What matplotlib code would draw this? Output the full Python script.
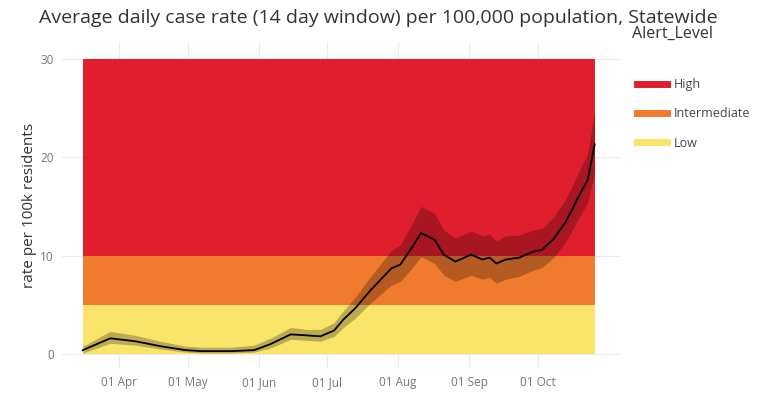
import numpy as np
import pandas as pd
import matplotlib
matplotlib.use("Agg")
import matplotlib.pyplot as plt
import matplotlib.dates as mdates
from matplotlib.lines import Line2D

# case rate per 100k (14 day window)
dates = ["2020-03-16", "2020-03-28", "2020-04-08", "2020-04-19", "2020-04-30",
         "2020-05-07", "2020-05-20", "2020-05-30", "2020-06-06", "2020-06-15",
         "2020-06-22", "2020-06-28", "2020-07-04", "2020-07-08", "2020-07-13",
         "2020-07-20", "2020-07-29", "2020-08-02", "2020-08-07", "2020-08-11",
         "2020-08-17", "2020-08-21", "2020-08-26", "2020-09-02", "2020-09-07",
         "2020-09-10", "2020-09-13", "2020-09-17", "2020-09-23", "2020-09-29",
         "2020-10-03", "2020-10-08", "2020-10-13", "2020-10-16", "2020-10-19",
         "2020-10-22", "2020-10-23", "2020-10-26"]
rate = [0.4, 1.6, 1.3, 0.8, 0.4, 0.3, 0.3, 0.4, 1.0, 2.0,
        1.9, 1.8, 2.4, 3.5, 4.6, 6.5, 8.7, 9.1, 10.8, 12.3,
        11.6, 10.1, 9.4, 10.1, 9.6, 9.8, 9.2, 9.6, 9.8, 10.4,
        10.6, 11.7, 13.3, 14.6, 16.0, 17.3, 17.7, 21.3]
rate_lo = [0.1, 1.1, 0.9, 0.5, 0.2, 0.1, 0.1, 0.2, 0.6, 1.5,
           1.4, 1.3, 1.8, 2.7, 3.6, 5.2, 7.0, 7.4, 8.7, 9.9,
           9.2, 8.0, 7.4, 8.0, 7.6, 7.8, 7.2, 7.6, 7.9, 8.5,
           8.8, 9.8, 11.3, 12.5, 13.8, 15.0, 15.4, 18.5]
rate_hi = [0.8, 2.3, 1.9, 1.3, 0.8, 0.7, 0.7, 0.9, 1.6, 2.7,
           2.5, 2.5, 3.2, 4.4, 5.7, 7.9, 10.5, 11.1, 13.2, 15.0,
           14.3, 12.6, 11.8, 12.5, 12.0, 12.2, 11.5, 12.0, 12.1, 12.6,
           12.8, 13.9, 15.6, 17.0, 18.5, 19.9, 20.4, 24.6]

month_ticks = ["2020-04-01", "2020-05-01", "2020-06-01", "2020-07-01",
               "2020-08-01", "2020-09-01", "2020-10-01"]

levels = ["High", "Intermediate", "Low"]
level_lo = [10, 5, 0]
level_hi = [30, 10, 5]
level_colors = ["#e01e2d", "#f07a2d", "#fbe46a"]

x = pd.to_datetime(dates)

plt.rcParams['font.family'] = ['Open Sans', 'DejaVu Sans']
fig = plt.figure(figsize=(7.68, 3.93), dpi=100)
ax = fig.add_axes([0.081, 0.064, 0.726, 0.829])

for lo, hi, c in zip(level_lo, level_hi, level_colors):
    ax.fill_between(x, lo, hi, color=c, lw=0, zorder=1)

ax.fill_between(x, rate_lo, rate_hi, color="black", alpha=0.25, lw=0, zorder=2)
ax.plot(x, rate, color="black", lw=1.3, zorder=3)

ax.set_xlim(pd.Timestamp("2020-03-07"), pd.Timestamp("2020-11-06"))
ax.set_ylim(-1.4, 31.7)
ax.set_yticks([0, 10, 20, 30])
ax.set_xticks(pd.to_datetime(month_ticks))
ax.xaxis.set_major_formatter(mdates.DateFormatter("%d %b"))
ax.grid(True, color="#ececec", lw=0.8, zorder=0)
ax.set_axisbelow(True)
for s in ax.spines.values():
    s.set_visible(False)
ax.tick_params(length=0, labelsize=8.5, labelcolor="#777777", pad=6)
ax.set_ylabel("rate per 100k residents", fontsize=11, color="#333333", labelpad=2)

fig.text(0.493, 0.955, "Average daily case rate (14 day window) per 100,000 population, Statewide",
         ha="center", va="center", fontsize=14, color="#333333")
fig.text(0.823, 0.913, "Alert_Level", ha="left", va="center", fontsize=11.5, color="#333333")

handles = [Line2D([], [], color=c, lw=5) for c in level_colors]
leg = fig.legend(handles, levels, loc="upper left", bbox_to_anchor=(0.815, 0.83),
                 frameon=False, fontsize=9, handlelength=2.4, labelspacing=1.3,
                 handletextpad=0.5)
for t in leg.get_texts():
    t.set_color("#444444")

fig.savefig("out.png", dpi=100)
